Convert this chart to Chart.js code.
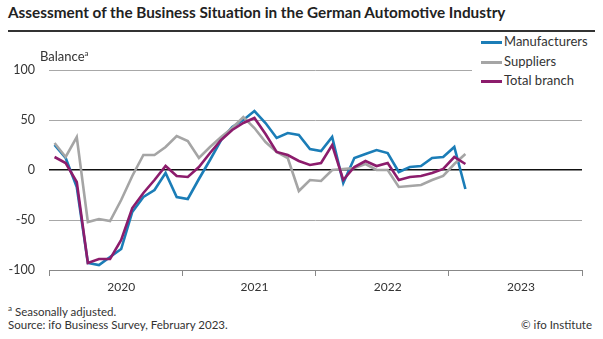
<!DOCTYPE html>
<html lang="en">
<head>
    <meta charset="UTF-8">
    <title>Assessment of the Business Situation in the German Automotive Industry</title>
    <script src="https://cdn.jsdelivr.net/npm/chart.js"></script>
    <style>
        body {
            margin: 0;
            width: 603px;
            height: 339px;
            position: relative;
            overflow: hidden;
            background: #fff;
            font-family: Lato, "Open Sans", sans-serif;
            color: #333;
        }
        #title {
            position: absolute;
            left: 8px;
            top: 3px;
            font-size: 15.3px;
            font-weight: bold;
            color: #222;
            white-space: nowrap;
        }
        #rule {
            position: absolute;
            left: 8px;
            top: 30px;
            width: 587px;
            height: 2px;
            background: #333;
        }
        #chartBox {
            position: absolute;
            left: 0;
            top: 0;
        }
        #balance {
            position: absolute;
            left: 40px;
            top: 48px;
            font-size: 13px;
        }
        #balance sup, .note sup {
            font-size: 8px;
        }
        #legend {
            position: absolute;
            left: 472px;
            top: 33px;
            width: 131px;
            height: 56px;
            background: #fff;
        }
        .legItem {
            position: absolute;
            left: 9px;
            font-size: 13px;
            white-space: nowrap;
            line-height: 16px;
        }
        .legItem span {
            display: inline-block;
            width: 21px;
            height: 3px;
            margin-right: 2px;
            vertical-align: middle;
        }
        .note {
            position: absolute;
            font-size: 11.5px;
            white-space: nowrap;
        }
    </style>
</head>
<body>
    <div id="title">Assessment of the Business Situation in the German Automotive Industry</div>
    <div id="rule"></div>
    <canvas id="chartBox" width="603" height="300"></canvas>
    <div id="balance">Balance<sup>a</sup></div>
    <div id="legend"></div>
    <div class="note" style="left:8px; top:303px;"><sup>a</sup> Seasonally adjusted.</div>
    <div class="note" style="left:8px; top:318px;">Source: ifo Business Survey, February 2023.</div>
    <div class="note" style="right:11px; top:318px;">© ifo Institute</div>

    <script>
        // monthly values, Jan 2020 .. Feb 2023
        const months = [
            '2020-01','2020-02','2020-03','2020-04','2020-05','2020-06','2020-07','2020-08','2020-09','2020-10','2020-11','2020-12',
            '2021-01','2021-02','2021-03','2021-04','2021-05','2021-06','2021-07','2021-08','2021-09','2021-10','2021-11','2021-12',
            '2022-01','2022-02','2022-03','2022-04','2022-05','2022-06','2022-07','2022-08','2022-09','2022-10','2022-11','2022-12',
            '2023-01','2023-02'
        ];
        const manufacturers = [
            25, 12, -17, -93, -95, -87, -79, -42, -27, -20, -3, -27,
            -29, -9, 10, 30, 43, 50, 59, 47, 32, 37, 35, 21,
            19, 33, -13, 12, 16, 20, 17, -2, 3, 4, 12, 13,
            23, -19
        ];
        const suppliers = [
            27, 13, 33, -52, -49, -51, -30, -6, 15, 15, 23, 34,
            29, 12, 23, 33, 42, 53, 42, 28, 18, 12, -21, -10,
            -11, 0, 1, 2, 6, 0, 0, -17, -16, -15, -10, -6,
            6, 16
        ];
        const totalBranch = [
            13, 7, -12, -93, -89, -89, -70, -38, -23, -10, 4, -6,
            -7, 3, 17, 30, 40, 47, 52, 36, 18, 15, 9, 5,
            7, 25, -10, 3, 9, 4, 7, -10, -7, -6, -3, 1,
            13, 6
        ];
        const years = ['2020', '2021', '2022', '2023'];
        const yTicks = [-100, -50, 0, 50, 100];

        const seriesNames = ['Manufacturers', 'Suppliers', 'Total branch'];
        const seriesColors = ['#1b7db7', '#a5a5a5', '#8c1c6c'];
        const seriesData = [manufacturers, suppliers, totalBranch];

        // month index -> position on the axis (centre of the month)
        function toPoints(values) {
            return values.map((v, i) => ({ x: i + 0.5, y: v }));
        }

        const legend = document.getElementById('legend');
        seriesNames.forEach((name, i) => {
            const item = document.createElement('div');
            item.className = 'legItem';
            item.style.top = (i * 19.5) + 'px';
            item.innerHTML = '<span style="background:' + seriesColors[i] + '"></span>' + name;
            legend.appendChild(item);
        });

        const ctx = document.getElementById('chartBox').getContext('2d');
        new Chart(ctx, {
            type: 'line',
            data: {
                datasets: seriesData.map((vals, i) => ({
                    label: seriesNames[i],
                    data: toPoints(vals),
                    borderColor: seriesColors[i],
                    borderWidth: 2.6,
                    pointRadius: 0,
                    tension: 0,
                    fill: false,
                    order: 2 - i
                }))
            },
            options: {
                responsive: false,
                animation: false,
                devicePixelRatio: 1,
                layout: { padding: { left: 0, top: 70, right: 21, bottom: 0 } },
                plugins: {
                    legend: { display: false },
                    tooltip: { enabled: false }
                },
                scales: {
                    x: {
                        type: 'linear',
                        min: 0,
                        max: years.length * 12,
                        afterFit: s => { s.height = 30; },
                        afterBuildTicks: s => {
                            const t = [];
                            years.forEach((y, i) => {
                                t.push({ value: i * 12 });
                                t.push({ value: i * 12 + 6.5 });
                            });
                            t.push({ value: years.length * 12 });
                            s.ticks = t;
                        },
                        ticks: {
                            autoSkip: false,
                            maxRotation: 0,
                            padding: 4,
                            color: '#333',
                            font: { family: 'Lato', size: 12 },
                            callback: v => (v % 12 === 6.5 ? years[Math.floor(v / 12)] : '')
                        },
                        grid: {
                            drawOnChartArea: false,
                            drawTicks: true,
                            tickLength: 6,
                            color: c => (c.tick && c.tick.value % 12 === 0 ? '#888' : 'rgba(0,0,0,0)')
                        },
                        border: { display: true, color: '#888', width: 1 }
                    },
                    y: {
                        min: yTicks[0],
                        max: yTicks[yTicks.length - 1],
                        afterFit: s => { s.width = 49; },
                        afterBuildTicks: s => { s.ticks = yTicks.map(v => ({ value: v })); },
                        ticks: {
                            padding: 14,
                            color: '#333',
                            font: { family: 'Lato', size: 12.5 }
                        },
                        grid: {
                            drawTicks: false,
                            color: c => (c.tick && c.tick.value === 0 ? '#111' : '#a8a8a8'),
                            lineWidth: c => (c.tick && c.tick.value === 0 ? 1.6 : 1)
                        },
                        border: { display: false }
                    }
                }
            }
        });
    </script>
</body>
</html>
